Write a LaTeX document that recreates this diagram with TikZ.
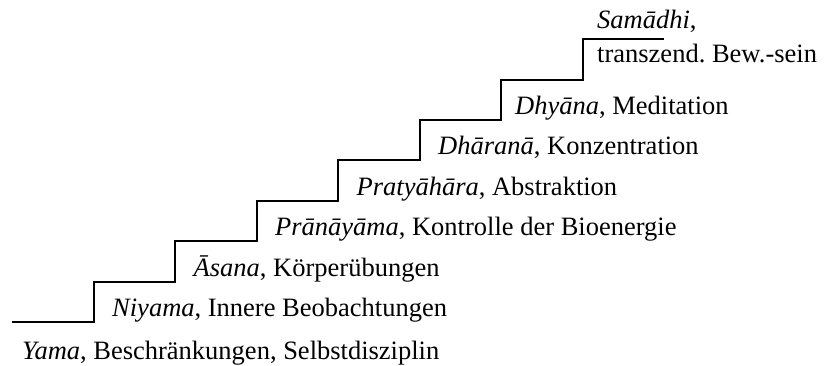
\documentclass[tikz,border=0pt]{standalone}
\usepackage{fontspec}
\setmainfont{Liberation Serif}
\usetikzlibrary{positioning}
\def\stufenfont{\fontsize{26.5}{34}\selectfont\frenchspacing}

\begin{document}
\begin{tikzpicture}[x=1pt,y=-1pt,
  stufe/.style={anchor=base west,inner sep=0pt,font=\stufenfont}]
\useasboundingbox (0,0) rectangle (824,365);
% Treppe
\draw[line width=2pt,line join=miter] (12,322)
  \foreach \i in {1,...,7} { -- ++(81.5,0) -- ++(0,-40.4) } -- ++(81.5,0);
% Stufen
\node[stufe] (yama) at (22,359) {\textit{Yama}, Beschränkungen, Selbstdisziplin};
\node[stufe] (niyama) at (112,316.5) {\textit{Niyama}, Innere Beobachtungen};
\node[stufe] (asana) at (193.5,276) {\textit{Āsana}, Körperübungen};
\node[stufe] (pranayama) at (275,235.7) {\textit{Prānāyāma}, Kontrolle der Bioenergie};
\node[stufe] (pratyahara) at (356.5,195.3) {\textit{Pratyāhāra}, Abstraktion};
\node[stufe] (dharana) at (438,154.9) {\textit{Dhāranā}, Konzentration};
\node[stufe] (dhyana) at (515,114.5) {\textit{Dhyāna}, Meditation};
\node[stufe] (samadhi) at (597,28) {\textit{Samādhi},};
\node[stufe] (transzend) at (597,62) {transzend. Bew.-sein};
\end{tikzpicture}
\end{document}
